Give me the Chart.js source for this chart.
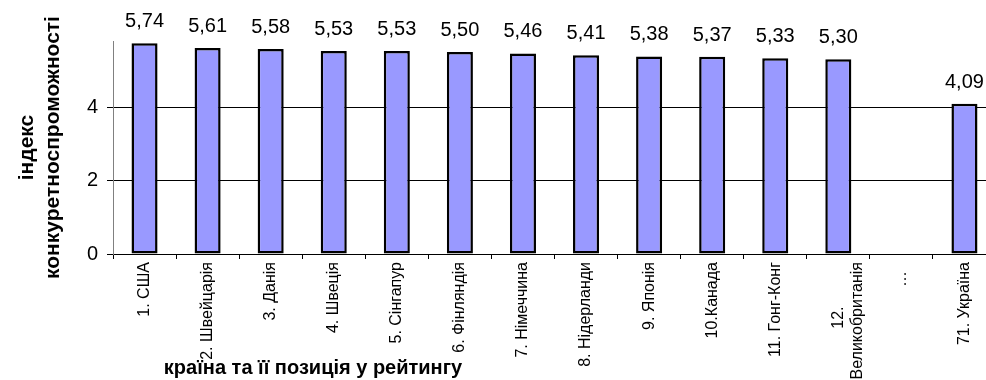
<!DOCTYPE html>
<html>
<head>
<meta charset="utf-8">
<script src="https://cdn.jsdelivr.net/npm/chart.js@4/dist/chart.umd.min.js"></script>
<style>
  html, body { margin: 0; padding: 0; background: #fff; overflow: hidden; }
  .wrap { width: 986px; height: 380px; overflow: hidden; }
</style>
</head>
<body>
<div class="wrap">
  <canvas id="ctx-rating" width="1000" height="380"></canvas>
</div>
<script>
const countries = [
    '1. США',
    '2. Швейцарія',
    '3. Данія',
    '4. Швеція',
    '5. Сінгапур',
    '6. Фінляндія',
    '7. Німеччина',
    '8. Нідерланди',
    '9. Японія',
    '10.Канада',
    '11. Гонг-Конг',
    ['12.' + '\u00a0'.repeat(10), 'Великобританія'],
    '…\u00a0\u00a0',
    '71. Україна'
];
const indexValues = [5.74, 5.61, 5.58, 5.53, 5.53, 5.50, 5.46, 5.41, 5.38, 5.37, 5.33, 5.30, null, 4.09];
const yTicks = [0, 2, 4];

const yTitle = ['індекс', 'конкуретноспроможності'];
const xTitle = 'країна та її позиція у рейтингу';

const FONT = "'Liberation Sans', Arial, sans-serif";

// value above each bar, decimal comma
const valueLabels = {
    id: 'valueLabels',
    afterDatasetsDraw(chart) {
        const ctx = chart.ctx;
        const meta = chart.getDatasetMeta(0);
        ctx.save();
        ctx.font = '20px ' + FONT;
        ctx.fillStyle = '#000';
        ctx.textAlign = 'center';
        ctx.textBaseline = 'alphabetic';
        meta.data.forEach((bar, i) => {
            const v = indexValues[i];
            if (v === null) return;
            ctx.fillText(v.toFixed(2).replace('.', ','), bar.x, bar.y - 16);
        });
        ctx.restore();
    }
};

// x axis title sits left of centre, overlapping the long labels
const xAxisTitle = {
    id: 'xAxisTitle',
    afterDraw(chart) {
        const ctx = chart.ctx;
        ctx.save();
        ctx.font = 'bold 20px ' + FONT;
        ctx.fillStyle = '#000';
        ctx.textAlign = 'center';
        ctx.textBaseline = 'alphabetic';
        ctx.fillText(xTitle, 313, 374);
        ctx.restore();
    }
};

const ctx = document.getElementById('ctx-rating');

new Chart(ctx, {
    type: 'bar',
    data: {
        labels: countries,
        datasets: [{
            data: indexValues,
            backgroundColor: '#9999ff',
            borderColor: '#000',
            borderWidth: 2.5,
            borderSkipped: false,
            barPercentage: 0.413,
            categoryPercentage: 1
        }]
    },
    options: {
        responsive: false,
        animation: false,
        layout: { padding: { top: 41, right: 4, left: 0, bottom: 0 } },
        plugins: {
            legend: { display: false },
            tooltip: { enabled: false }
        },
        scales: {
            x: {
                afterFit: (scale) => { scale.height = 126; },
                grid: {
                    offset: true,
                    drawOnChartArea: false,
                    drawTicks: true,
                    tickLength: 5,
                    color: '#000'
                },
                border: { color: '#000', width: 1 },
                ticks: {
                    autoSkip: false,
                    minRotation: 90,
                    maxRotation: 90,
                    padding: 3,
                    color: '#000',
                    font: { family: FONT, size: 16 }
                }
            },
            y: {
                min: 0,
                max: 5.8,
                afterFit: (scale) => { scale.width = 113; },
                afterBuildTicks: (scale) => {
                    scale.ticks = yTicks.map(v => ({ value: v }));
                },
                grid: {
                    color: '#000',
                    drawTicks: true,
                    tickLength: 6
                },
                border: { color: '#808080', width: 1 },
                ticks: {
                    padding: 9,
                    color: '#000',
                    font: { family: FONT, size: 20 }
                },
                title: {
                    display: true,
                    text: yTitle,
                    color: '#000',
                    padding: { top: 14, bottom: 0 },
                    font: { family: FONT, size: 21, weight: 'bold', lineHeight: 1.25 }
                }
            }
        }
    },
    plugins: [valueLabels, xAxisTitle]
});
</script>
</body>
</html>
